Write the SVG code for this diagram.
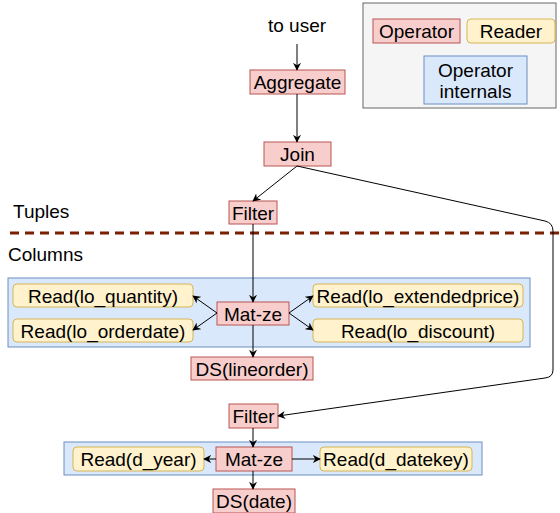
<svg xmlns="http://www.w3.org/2000/svg" width="560" height="513" viewBox="0 0 560 513">
<style>
text{font-family:"Liberation Sans",Arial,sans-serif;font-size:19px;fill:#000;text-anchor:middle;dominant-baseline:central}
.op{fill:#f8cecc;stroke:#b85450;stroke-width:1}
.rd{fill:#fff2cc;stroke:#d6b656;stroke-width:1}
.in{fill:#dae8fc;stroke:#6c8ebf;stroke-width:1}
.e{fill:none;stroke:#000;stroke-width:1;marker-end:url(#a)}
</style>
<defs>
<marker id="a" viewBox="0 0 10 10" refX="9" refY="5" markerWidth="8" markerHeight="8" markerUnits="userSpaceOnUse" orient="auto">
<path d="M0,0 L10,5 L0,10 L3,5 Z" fill="#000"/>
</marker>
</defs>
<rect width="560" height="513" fill="#fff"/>
<g id="legend">
<rect x="363" y="3" width="193" height="105" fill="#f5f5f5" stroke="#666"/>
<rect class="op" x="373" y="19" width="87" height="24"/><text x="416.5" y="31.5">Operator</text>
<rect class="rd" x="467" y="19" width="88" height="24" rx="4"/><text x="511" y="31.5">Reader</text>
<rect class="in" x="424" y="56" width="103" height="48"/><text x="475.5" y="70.5">Operator</text><text x="475.5" y="91.5">internals</text>
</g>
<g id="labels">
<text x="297" y="25">to user</text>
<text x="13" y="211" style="text-anchor:start">Tuples</text>
<text x="8" y="254" style="text-anchor:start">Columns</text>
<line x1="10" y1="233" x2="560" y2="233" stroke="#7a1f00" stroke-width="3" stroke-dasharray="9,6"/>
</g>
<g id="container1"><rect class="in" x="8" y="278" width="522" height="69"/></g>
<g id="container2"><rect class="in" x="64" y="442" width="418" height="33"/></g>
<g id="aggregate"><rect class="op" x="250" y="70" width="95" height="24"/><text x="297.5" y="82.5">Aggregate</text></g>
<g id="join"><rect class="op" x="264" y="142" width="67" height="24"/><text x="297.5" y="154.5">Join</text></g>
<g id="filter1"><rect class="op" x="229" y="201" width="48" height="23"/><text x="253" y="213">Filter</text></g>
<g id="read_lo_quantity"><rect class="rd" x="13" y="284" width="180" height="23" rx="4"/><text x="103" y="296">Read(lo_quantity)</text></g>
<g id="read_lo_orderdate"><rect class="rd" x="13" y="319" width="180" height="23" rx="4"/><text x="103" y="331">Read(lo_orderdate)</text></g>
<g id="matze1"><rect class="op" x="217" y="302" width="72" height="23"/><text x="253" y="314">Mat-ze</text></g>
<g id="read_lo_extendedprice"><rect class="rd" x="313" y="284" width="210" height="23" rx="4"/><text x="418" y="296">Read(lo_extendedprice)</text></g>
<g id="read_lo_discount"><rect class="rd" x="313" y="319" width="210" height="23" rx="4"/><text x="418" y="331">Read(lo_discount)</text></g>
<g id="ds_lineorder"><rect class="op" x="191" y="357" width="122" height="23"/><text x="252" y="369">DS(lineorder)</text></g>
<g id="filter2"><rect class="op" x="229" y="404" width="49" height="24"/><text x="253.5" y="416.5">Filter</text></g>
<g id="read_d_year"><rect class="rd" x="73" y="447" width="131" height="24" rx="4"/><text x="138.5" y="459.5">Read(d_year)</text></g>
<g id="matze2"><rect class="op" x="216" y="447" width="76" height="24"/><text x="254" y="459.5">Mat-ze</text></g>
<g id="read_d_datekey"><rect class="rd" x="320" y="447" width="152" height="24" rx="4"/><text x="396" y="459.5">Read(d_datekey)</text></g>
<g id="ds_date"><rect class="op" x="213" y="489" width="82" height="24"/><text x="254" y="501.5">DS(date)</text></g>
<g id="connectors">
<path class="e" d="M297,44 L297,70"/>
<path class="e" d="M297,94 L297,142"/>
<path class="e" d="M297,166 L253,201"/>
<path class="e" d="M297,166 L545,221 Q553,223 553,231 L553,370 Q553,377 545,378 L278,416"/>
<path class="e" d="M253,224 L253,302"/>
<path class="e" d="M217,313 L193,296"/>
<path class="e" d="M217,313 L193,330"/>
<path class="e" d="M289,313 L313,296"/>
<path class="e" d="M289,313 L313,330"/>
<path class="e" d="M253,325 L253,357"/>
<path class="e" d="M253,428 L253,447"/>
<path class="e" d="M216,459 L204,459"/>
<path class="e" d="M292,459 L320,459"/>
<path class="e" d="M253,471 L253,489"/>
</g>
</svg>
